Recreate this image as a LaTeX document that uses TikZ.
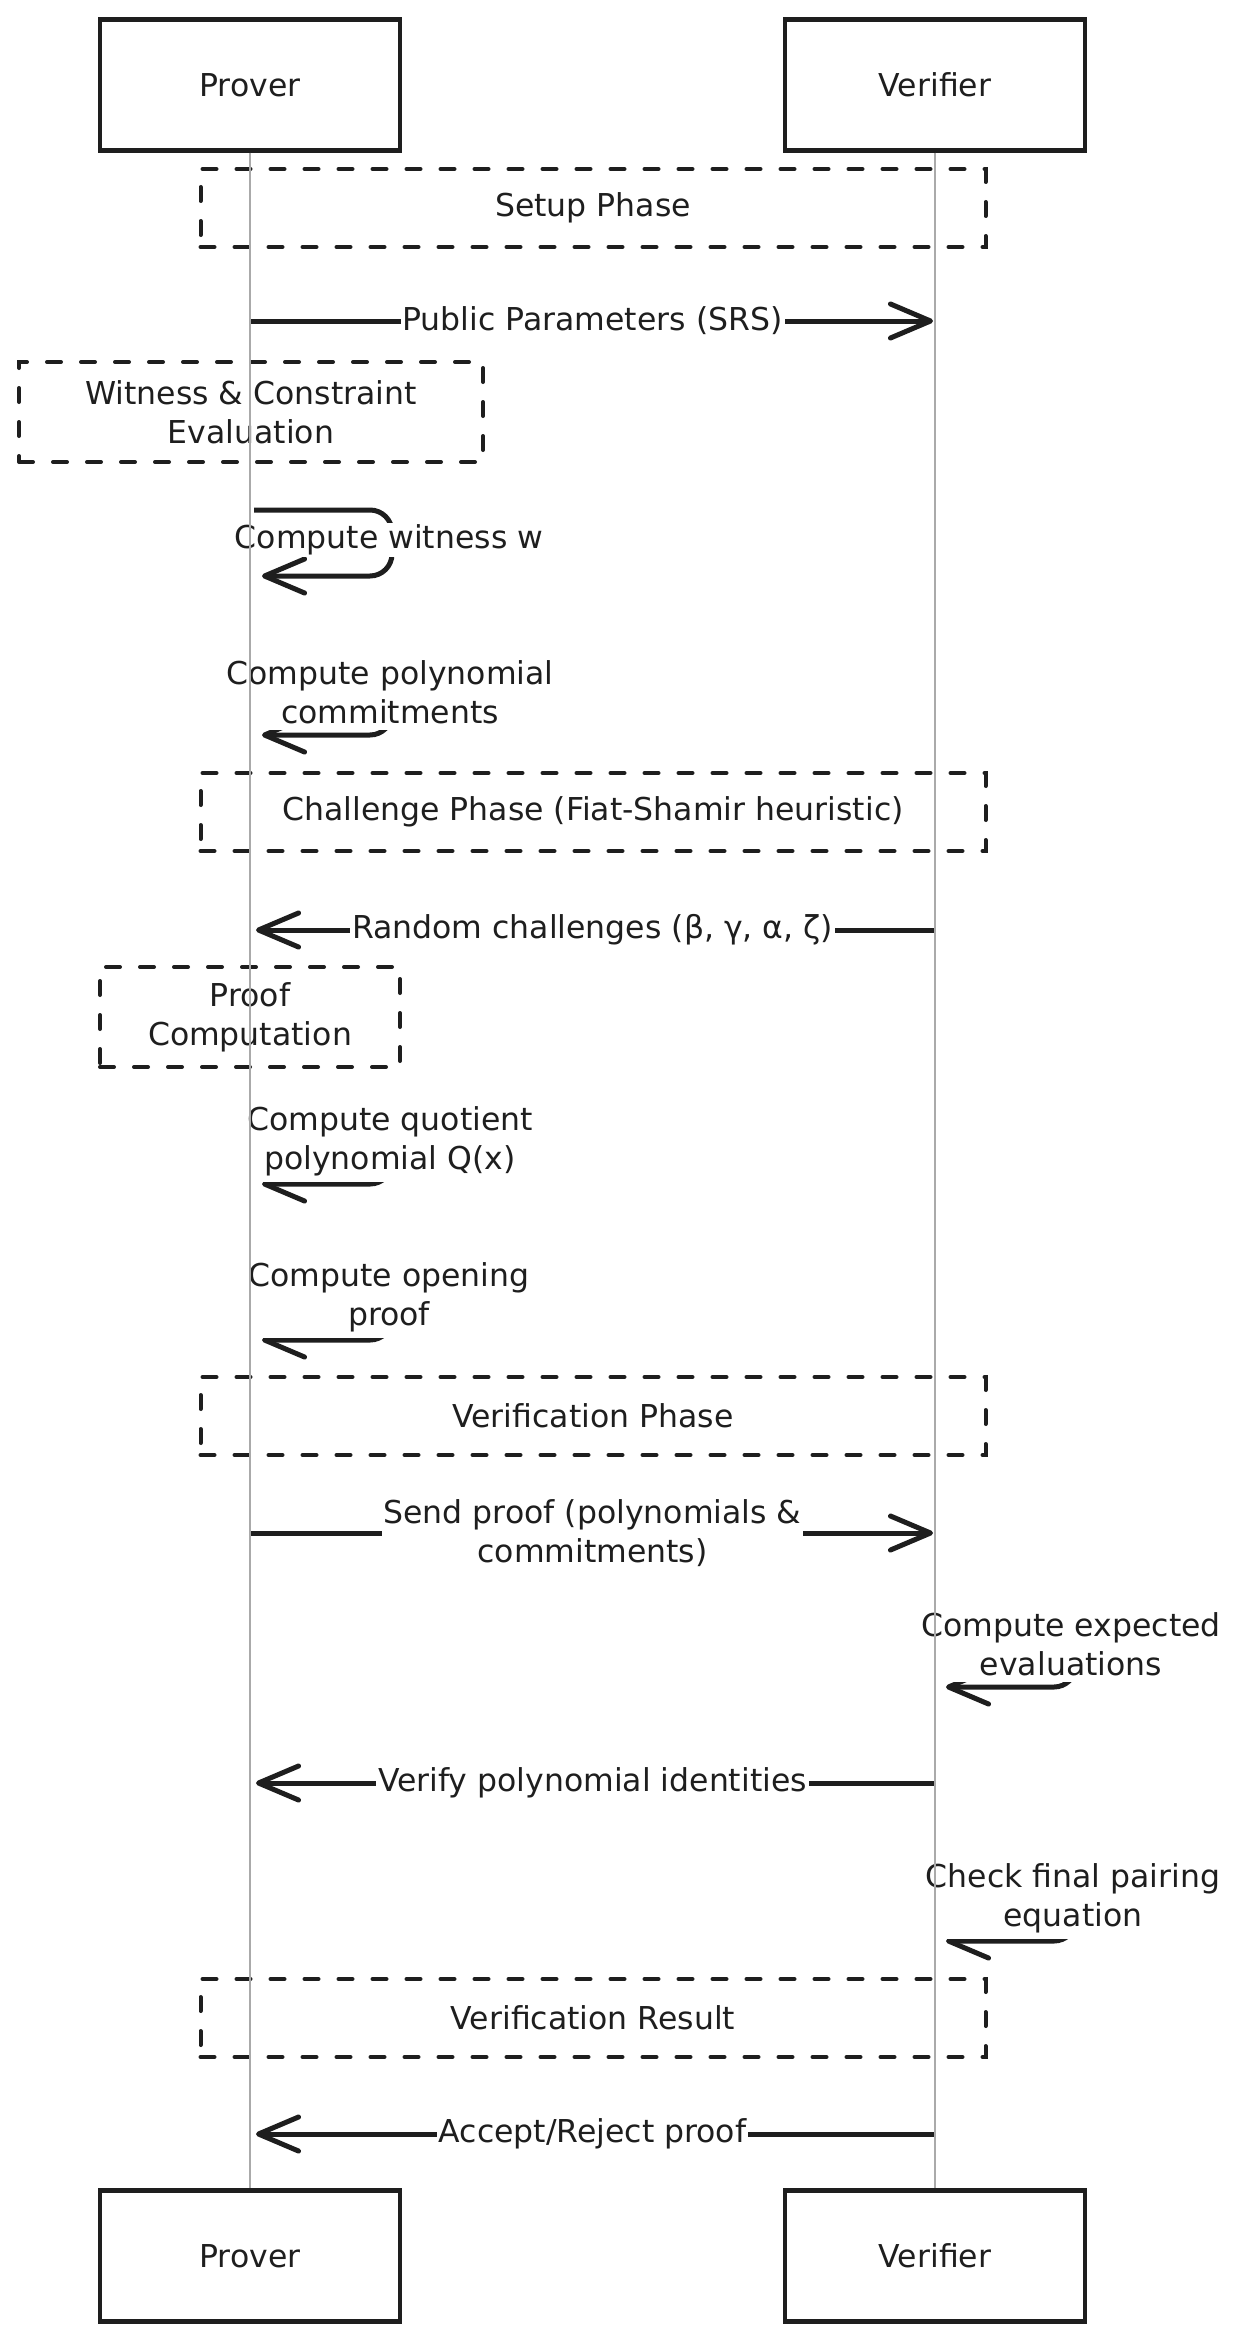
\documentclass[tikz,border=0pt]{standalone}
\usepackage{fontspec}
\setmainfont{DejaVu Sans}
\usepackage{xcolor}
\definecolor{InkBlack}{RGB}{30,30,30}
\definecolor{LifeGray}{RGB}{170,170,170}
\usepackage{tikz}
\usetikzlibrary{positioning, arrows.meta}

\tikzset{
  txt/.style={text=InkBlack, font=\fontsize{31.5}{39}\selectfont, align=center},
  actor/.style={txt, draw=InkBlack, line width=4.5pt, minimum width=300pt, minimum height=131pt},
  phase/.style={txt, draw=InkBlack, line width=4pt, dash pattern=on 14pt off 20pt, line cap=round, minimum width=785pt, minimum height=78pt},
  notebox/.style={txt, draw=InkBlack, line width=4pt, dash pattern=on 14pt off 20pt, line cap=round, minimum height=100pt},
  msg/.style={draw=InkBlack, line width=5pt, -{Straight Barb[length=40pt,width=34pt,round]}},
  selfmsg/.style={msg, rounded corners=22pt},
  lbl/.style={txt, fill=white, inner xsep=2pt, inner ysep=2pt},
  looplbl/.style={txt, fill=white, inner xsep=2pt, inner ysep=6pt},
  lifeline/.style={draw=LifeGray, line width=1.5pt}
}

\begin{document}
\begin{tikzpicture}[x=1pt, y=-1pt]
  % Lienzo
  \fill[white] (0,0) rectangle (1233,2344);
  \useasboundingbox (0,0) rectangle (1233,2344);

  % Participantes
  \node[actor] (proverTop) at (250,85) {Prover};
  \node[actor] (verifierTop) at (935,85) {Verifier};
  \node[actor] (proverBot) at (250,2256) {Prover};
  \node[actor] (verifierBot) at (935,2256) {Verifier};

  % Fases y notas
  \node[phase] (setup) at (593,208) {Setup Phase};
  \node[notebox, minimum width=464pt] (witness) at (251,412) {Witness \& Constraint\\Evaluation};
  \node[phase] (challenge) at (593,812) {Challenge Phase (Fiat-Shamir heuristic)};
  \node[notebox, minimum width=300pt] (proofcomp) at (250,1017) {Proof\\Computation};
  \node[phase] (verifphase) at (593,1416) {Verification Phase};
  \node[phase] (result) at (593,2018) {Verification Result};

  % Mensajes
  \coordinate (srsP) at (250,321);
  \coordinate (srsV) at (935,321);
  \draw[msg, shorten >=2pt] (srsP) -- node[lbl] {Public Parameters (SRS)} (srsV);

  \coordinate (chalV) at (935,930);
  \coordinate (chalP) at (250,930);
  \draw[msg, shorten >=6pt] (chalV) -- node[lbl] {Random challenges (β, γ, α, ζ)} (chalP);

  \coordinate (sendP) at (250,1533);
  \coordinate (sendV) at (935,1533);
  \draw[msg, shorten >=2pt] (sendP) -- node[lbl] {Send proof (polynomials \&\\commitments)} (sendV);

  \coordinate (idV) at (935,1783);
  \coordinate (idP) at (250,1783);
  \draw[msg, shorten >=6pt] (idV) -- node[lbl] {Verify polynomial identities} (idP);

  \coordinate (accV) at (935,2134);
  \coordinate (accP) at (250,2134);
  \draw[msg, shorten >=6pt] (accV) -- node[lbl] {Accept/Reject proof} (accP);

  % Bucles del Prover
  \coordinate (witA) at (254,510);
  \coordinate (witB) at (262,576);
  \draw[selfmsg] (witA) -- ++(138,0) -- ++(0,66) -- (witB);
  \node[lbl] (witLbl) at (389,540) {Compute witness w};

  \coordinate (comA) at (254,662);
  \coordinate (comB) at (262,735);
  \draw[selfmsg] (comA) -- ++(138,0) -- ++(0,73) -- (comB);
  \node[looplbl] (comLbl) at (390,692) {Compute polynomial\\commitments};

  \coordinate (quoA) at (254,1111);
  \coordinate (quoB) at (262,1184);
  \draw[selfmsg] (quoA) -- ++(138,0) -- ++(0,73) -- (quoB);
  \node[looplbl] (quoLbl) at (390,1141) {Compute quotient\\polynomial Q(x)};

  \coordinate (opeA) at (254,1267);
  \coordinate (opeB) at (262,1340);
  \draw[selfmsg] (opeA) -- ++(138,0) -- ++(0,73) -- (opeB);
  \node[looplbl] (opeLbl) at (389,1297) {Compute opening\\proof};

  % Bucles del Verifier
  \coordinate (expA) at (938,1614);
  \coordinate (expB) at (946,1687);
  \draw[selfmsg] (expA) -- ++(138,0) -- ++(0,73) -- (expB);
  \node[looplbl] (expLbl) at (1071,1644) {Compute expected\\evaluations};

  \coordinate (parA) at (938,1868);
  \coordinate (parB) at (946,1941);
  \draw[selfmsg] (parA) -- ++(138,0) -- ++(0,73) -- (parB);
  \node[looplbl] (parLbl) at (1073,1898) {Check final pairing\\equation};

  % Lineas de vida
  \draw[lifeline] (proverTop) -- (proverBot);
  \draw[lifeline] (verifierTop) -- (verifierBot);
\end{tikzpicture}
\end{document}
